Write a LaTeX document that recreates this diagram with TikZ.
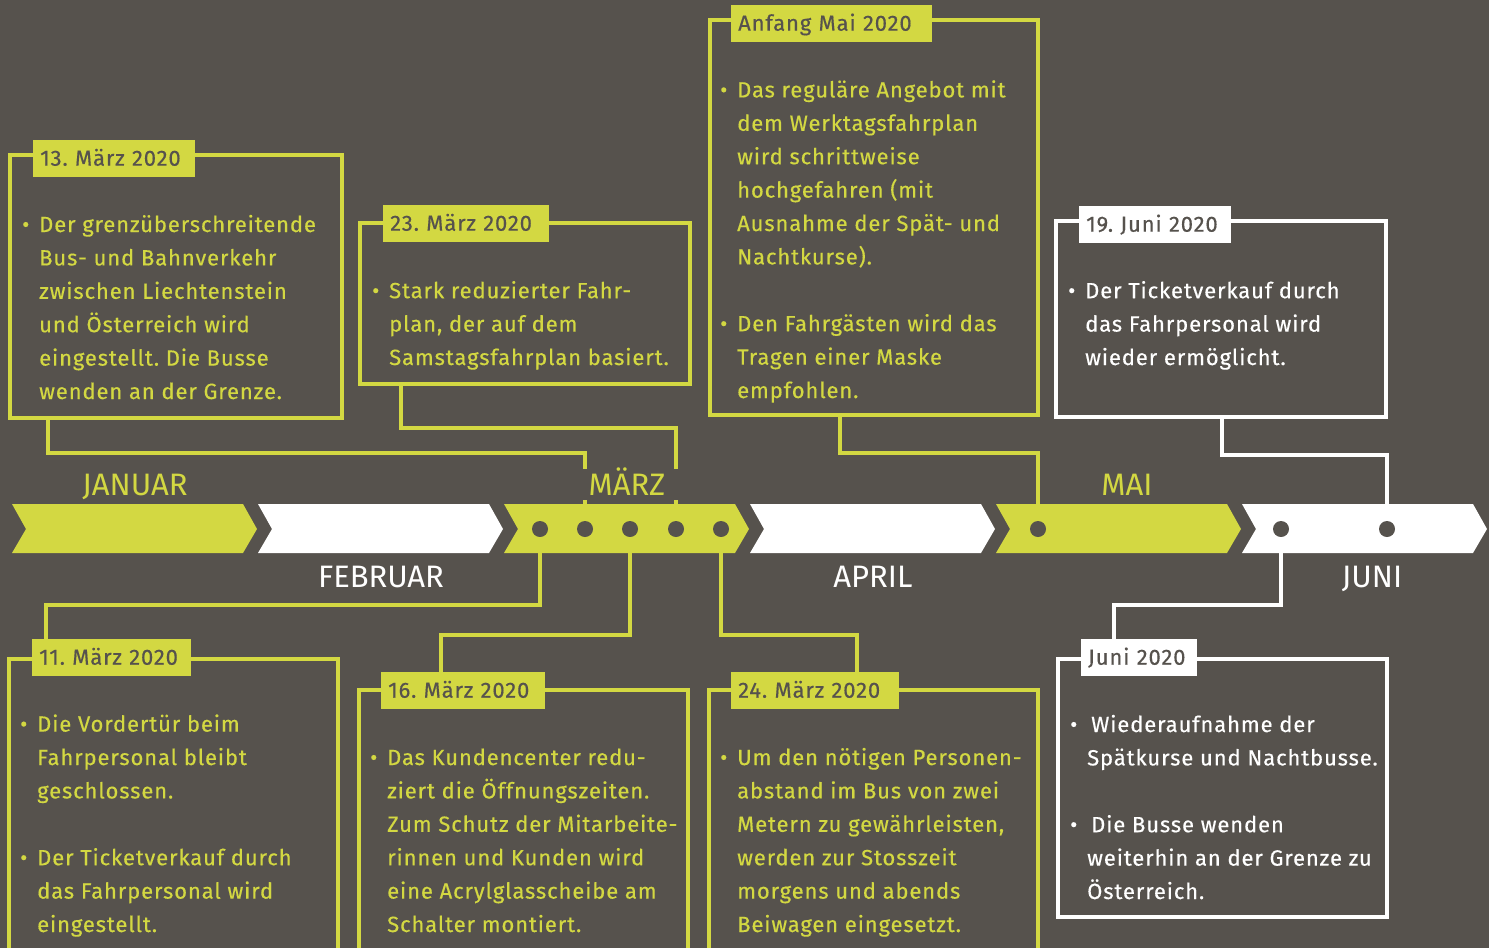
\documentclass[tikz,border=0pt]{standalone}
\usepackage{fontspec}
\setmainfont{Fira Sans}
\newfontfamily\bodyfont{Fira Sans}[LetterSpace=4, FakeBold=0.4]
\usetikzlibrary{positioning}

\definecolor{bg}{RGB}{86,82,77}
\definecolor{lime}{RGB}{211,216,66}

\newcommand{\bul}{\makebox[17pt][l]{\textbullet}}
\newcommand{\ind}{\hspace*{17pt}}

\tikzset{
  ybox/.style={draw=lime, line width=4.5pt, anchor=north west, inner sep=0pt, outer sep=0pt},
  wbox/.style={ybox, draw=white},
  ylabel/.style={fill=lime, text=bg, anchor=north west, minimum height=37pt, inner xsep=7pt, inner ysep=0pt,
    text height=15pt, text depth=1pt, align=left, font=\bodyfont\fontsize{22}{25}\selectfont\frenchspacing},
  wlabel/.style={ylabel, fill=white},
  ytext/.style={text=lime, anchor=base west, inner sep=0pt, align=left, font=\bodyfont\fontsize{22}{33.4}\selectfont\frenchspacing},
  wtext/.style={ytext, text=white},
  month/.style={anchor=base, inner sep=0pt, font=\fontsize{31}{31}\selectfont},
  dot/.style={circle, fill=bg, minimum size=16pt, inner sep=0pt},
  ylink/.style={draw=lime, line width=4.5pt},
  wlink/.style={ylink, draw=white}
}

\begin{document}
\begin{tikzpicture}[x=1pt,y=-1pt]

\useasboundingbox (0,0) rectangle (1489,948);
\clip (0,0) rectangle (1489,948);
\fill[bg] (0,0) rectangle (1489,948);

% timeline
\foreach \i/\c in {0/lime,1/white,2/lime,3/white,4/lime,5/white}
  \fill[\c] ({12+246*\i},504) -- ++(231,0) -- ++(14,25) -- ++(-14,24) -- ++(-231,0) -- ++(14,-24) -- cycle;

\foreach \n/\x in {mz1/540,mz2/585,mz3/630,mz4/676,mz5/721,my1/1038,jn1/1281,jn2/1387}
  \node[dot] (\n) at (\x,529) {};

% boxes above
\node[ybox, minimum width=332pt, minimum height=263pt] (b13) at (10,155) {};
\node[ybox, minimum width=330pt, minimum height=161pt] (b23) at (360,223) {};
\node[ybox, minimum width=328pt, minimum height=395pt] (bmai) at (710,20) {};
\node[wbox, minimum width=330pt, minimum height=196pt] (bj19) at (1056,221) {};

% boxes below
\node[ybox, minimum width=329pt, minimum height=320pt] (b11) at (9,659) {};
\node[ybox, minimum width=329pt, minimum height=300pt] (b16) at (359,690) {};
\node[ybox, minimum width=329pt, minimum height=300pt] (b24) at (709,690) {};
\node[wbox, minimum width=329pt, minimum height=258pt] (bjun) at (1058,659) {};

% labels
\node[ylabel, text width=148pt] (l13) at (33,140) {13. März 2020};
\node[ylabel, text width=152pt] (l23) at (383,205) {23. März 2020};
\node[ylabel, text width=187pt] (lmai) at (731,5) {Anfang Mai 2020};
\node[wlabel, text width=138pt] (lj19) at (1079,206) {19. Juni 2020};
\node[ylabel, text width=145pt] (l11) at (32,639) {11. März 2020};
\node[ylabel, text width=150pt] (l16) at (381,672) {16. März 2020};
\node[ylabel, text width=154pt] (l24) at (731,672) {24. März 2020};
\node[wlabel, text width=102pt] (ljun) at (1081,639) {Juni 2020};

% connectors
\draw[ylink] ([xshift=38pt]b13.south west) -- ++(0,35) -| (mz2);
\draw[ylink] ([xshift=41pt]b23.south west) -- ++(0,44) -| (mz4);
\draw[ylink] ([xshift=130pt]bmai.south west) -- ++(0,38) -| (my1);
\draw[wlink] ([xshift=166pt]bj19.south west) -- ++(0,38) -| (jn2);
\draw[ylink] ([xshift=14pt]l11.north west) -- ++(0,-34) -| (mz1);
\draw[ylink] ([xshift=60pt]l16.north west) -- ++(0,-37) -| (mz3);
\draw[ylink] ([xshift=126pt]l24.north west) -- ++(0,-37) -| (mz5);
\draw[wlink] ([xshift=33pt]ljun.north west) -- ++(0,-34) -| (jn1);

% months
\node[month, text=lime] (jan) at (135,495) {JANUAR};
\node[month, text=white] (feb) at (381,587) {FEBRUAR};
\node[month, text=lime, fill=bg, text height=26pt, text depth=5pt, minimum width=104pt] (mar) at (627,495) {MÄRZ};
\node[month, text=white] (apr) at (873,587) {APRIL};
\node[month, text=lime] (mai) at (1127,495) {MAI};
\node[month, text=white] (jun) at (1372,587) {JUNI};

% texts (anchored at the last baseline)
\node[ytext] (t13) at (22,399) {\bul Der grenzüberschreitende\\
  \ind Bus- und Bahnverkehr\\ \ind zwischen Liechtenstein\\ \ind und Österreich wird\\
  \ind eingestellt. Die Busse\\ \ind wenden an der Grenze.};
\node[ytext] (t23) at (372,365) {\bul Stark reduzierter Fahr-\\
  \ind plan, der auf dem\\ \ind Samstagsfahrplan basiert.};
\node[ytext] (tmai) at (720,398) {\bul Das reguläre Angebot mit\\
  \ind dem Werktagsfahrplan\\ \ind wird schrittweise\\ \ind hochgefahren (mit\\
  \ind Ausnahme der Spät- und\\ \ind Nachtkurse).\\[33.4pt]
  \bul Den Fahrgästen wird das\\ \ind Tragen einer Maske\\ \ind empfohlen.};
\node[wtext] (tj19) at (1068,365) {\bul Der Ticketverkauf durch\\
  \ind das Fahrpersonal wird\\ \ind wieder ermöglicht.};
\node[ytext] (t11) at (20,932) {\bul Die Vordertür beim\\
  \ind Fahrpersonal bleibt\\ \ind geschlossen.\\[33.4pt]
  \bul Der Ticketverkauf durch\\ \ind das Fahrpersonal wird\\ \ind eingestellt.};
\node[ytext] (t16) at (370,932) {\bul Das Kundencenter redu-\\
  \ind ziert die Öffnungszeiten.\\ \ind Zum Schutz der Mitarbeite-\\
  \ind rinnen und Kunden wird\\ \ind eine Acrylglasscheibe am\\ \ind Schalter montiert.};
\node[ytext] (t24) at (720,932) {\bul Um den nötigen Personen-\\
  \ind abstand im Bus von zwei\\ \ind Metern zu gewährleisten,\\
  \ind werden zur Stosszeit\\ \ind morgens und abends\\ \ind Beiwagen eingesetzt.};
\node[wtext] (tjun) at (1070,899) {\bul\hspace{4pt}Wiederaufnahme der\\
  \ind Spätkurse und Nachtbusse.\\[33.4pt]
  \bul\hspace{4pt}Die Busse wenden\\ \ind weiterhin an der Grenze zu\\ \ind Österreich.};

\end{tikzpicture}
\end{document}
